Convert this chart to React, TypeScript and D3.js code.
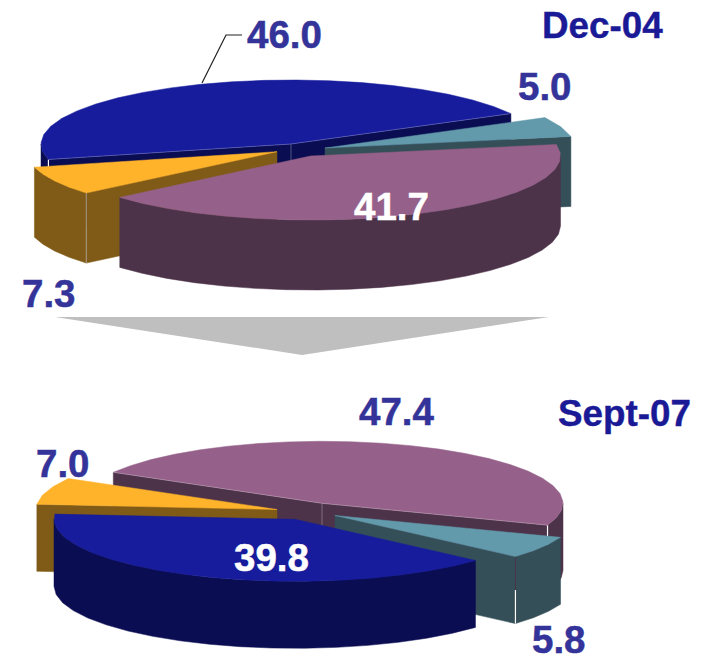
import React from "react";
import * as d3 from "d3";

const decCategories = ["Blue", "Teal", "Mauve", "Amber"];
const septCategories = ["Mauve", "Teal", "Blue", "Amber"];
const dec04Values = [46.0, 5.0, 41.7, 7.3];
const sept07Values = [47.4, 5.8, 39.8, 7.0];
const topColor: Record<string, string> = { Blue: "#171C9C", Teal: "#6299AB", Mauve: "#956089", Amber: "#FFB32B" };
const sideColor: Record<string, string> = { Blue: "#0A0D52", Teal: "#354F59", Mauve: "#4C3349", Amber: "#7F5B17" };

const deg = Math.PI / 180;
const lineGen = d3.line<[number, number]>();

type Rim = { color: string; opacity: number; whiteFrom: number };
type Geo = { cx: number[]; cy: number[]; rx: number; ry: number; depth: number; start: number; order: number[]; rims: Record<number, Rim> };
const geoDec: Geo = {
  cx: [291, 325, 310.5, 277], cy: [144, 148, 156, 151.7], rx: 250, ry: 64, depth: 70, start: 256, order: [0, 1, 3, 2],
  rims: { 0: { color: "#fff", opacity: 0.95, whiteFrom: 0 }, 3: { color: "#bbb", opacity: 0.7, whiteFrom: 1 } },
};
const geoSept: Geo = {
  cx: [322, 335, 295, 277], cy: [503.3, 515.5, 519.3, 509.5], rx: 241, ry: 62, depth: 67, start: 300, order: [0, 3, 1, 2],
  rims: { 0: { color: "#fff", opacity: 0.95, whiteFrom: 0 }, 1: { color: "#4C3349", opacity: 1, whiteFrom: 0.5 } },
};

function Pie3D({ values, names, geo }: { values: number[]; names: string[]; geo: Geo }) {
  const arcs = d3.pie<number>().sort(null).startAngle(geo.start * deg).endAngle((geo.start + 360) * deg)(values);
  const els: React.ReactNode[] = [];
  geo.order.forEach((i) => {
    const a0 = arcs[i].startAngle;
    const a1 = arcs[i].endAngle;
    const cx = geo.cx[i], cy = geo.cy[i];
    const pt = (t: number, dy = 0): [number, number] => [cx + geo.rx * Math.sin(t), cy - geo.ry * Math.cos(t) + dy];
    const arcPts = (s: number, e: number, dy = 0) => {
      const step = 7.5 * deg;
      const n = Math.max(1, Math.round((e - s) / step));
      return d3.range(n + 1).map((k) => pt(s + ((e - s) * k) / n, dy));
    };
    const fill = topColor[names[i]], side = sideColor[names[i]];
    const apex: [number, number] = [cx, cy];
    const apexB: [number, number] = [cx, cy + geo.depth];
    const startVis = Math.sin(a0) < 0;
    const endVis = Math.sin(a1) > 0;
    const both = startVis && endVis;
    const ranges = [[90, 270], [450, 630]].map(([l, h]) => [Math.max(a0, l * deg), Math.min(a1, h * deg)]).filter(([l, h]) => h > l);
    ranges.forEach(([l, h], k) => {
      const pts = [...arcPts(l, h), ...arcPts(l, h, geo.depth).reverse()];
      els.push(<path key={`o${i}${k}`} d={(lineGen(pts) as string) + "Z"} fill={side} stroke={side} strokeWidth={0.5} />);
    });
    const hasOuter = (t: number) => ranges.some(([l, h]) => t >= l - 1e-6 && t <= h + 1e-6);
    [[a0, startVis], [a1, endVis]].forEach(([t, vis], k) => {
      if (!vis) return;
      const th = t as number;
      const quad: [number, number][] = [apex, pt(th), pt(th, geo.depth), apexB];
      els.push(<path key={`c${i}${k}`} d={(lineGen(quad) as string) + "Z"} fill={side} stroke={side} strokeWidth={0.5} />);
      const rim = geo.rims[i];
      if (hasOuter(th) && rim) {
        const split = rim.whiteFrom * geo.depth;
        els.push(<path key={`r${i}${k}`} d={lineGen([pt(th), pt(th, split)]) as string} stroke={rim.color} strokeOpacity={rim.opacity} strokeWidth={1} fill="none" />);
        if (rim.whiteFrom < 1) els.push(<path key={`w${i}${k}`} d={lineGen([pt(th, split), pt(th, geo.depth)]) as string} stroke="#fff" strokeWidth={1.2} fill="none" />);
      }
    });
    if (both) {
      els.push(<path key={`a${i}`} d={lineGen([apex, apexB]) as string} stroke="#fff" strokeOpacity={0.3} strokeWidth={1} fill="none" />);
    }
    const topPts = [apex, ...arcPts(a0, a1)];
    els.push(<path key={`t${i}`} d={(lineGen(topPts) as string) + "Z"} fill={fill} stroke={fill} strokeWidth={0.5} />);
    if (both) {
      els.push(<path key={`e${i}0`} d={lineGen([pt(a0), apex, pt(a1)]) as string} stroke="#fff" strokeOpacity={0.3} strokeWidth={0.8} fill="none" />);
    }
  });
  return <g>{els}</g>;
}

const labelFont = { fontFamily: "'Liberation Sans', Arial, sans-serif", fontWeight: 700, fontSize: 38.5, strokeWidth: 0.5 } as const;
const titleFont = { fontFamily: "'Liberation Sans', Arial, sans-serif", fontWeight: 700, fontSize: 36.8, strokeWidth: 0.4 } as const;
const LABEL = "#333399";
const TITLE = "#1A1A96";

export default function App() {
  return (
    <svg width={706} height={661} viewBox="0 0 706 661" style={{ position: "absolute", left: 0, top: 0, background: "#fff" }}>
      <path d={lineGen([[202, 83], [226, 35], [242, 35]]) as string} fill="none" stroke="#222" strokeWidth={1.2} />
      <Pie3D values={dec04Values} names={decCategories} geo={geoDec} />
      <path d={(lineGen([[55, 317], [549, 317], [302, 355]]) as string) + "Z"} fill="#BFBFBF" />
      <Pie3D values={sept07Values} names={septCategories} geo={geoSept} />
      <g {...labelFont}>
        <text x={247} y={48} fill={LABEL} stroke={LABEL}>{dec04Values[0].toFixed(1)}</text>
        <text x={518} y={100} fill={LABEL} stroke={LABEL}>{dec04Values[1].toFixed(1)}</text>
        <text x={354} y={220} fill="#fff" stroke="#fff">{dec04Values[2].toFixed(1)}</text>
        <text x={22} y={307} fill={LABEL} stroke={LABEL}>{dec04Values[3].toFixed(1)}</text>
        <text x={359} y={425} fill={LABEL} stroke={LABEL}>{sept07Values[0].toFixed(1)}</text>
        <text x={532} y={653} fill={LABEL} stroke={LABEL}>{sept07Values[1].toFixed(1)}</text>
        <text x={234} y={571} fill="#fff" stroke="#fff">{sept07Values[2].toFixed(1)}</text>
        <text x={36} y={477} fill={LABEL} stroke={LABEL}>{sept07Values[3].toFixed(1)}</text>
      </g>
      <g {...titleFont}>
        <text x={542} y={38} fill={TITLE} stroke={TITLE}>Dec-04</text>
        <text x={558} y={426} fill={TITLE} stroke={TITLE}>Sept-07</text>
      </g>
    </svg>
  );
}
